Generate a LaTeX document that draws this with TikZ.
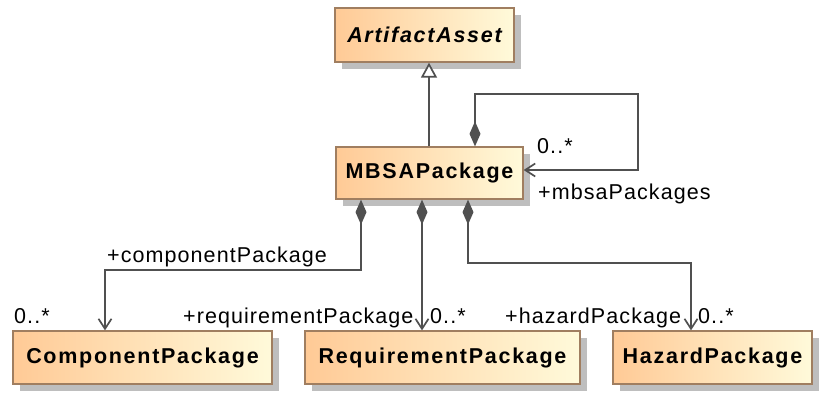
\documentclass[tikz,border=0pt]{standalone}
\usepackage{fontspec}
\setmainfont{Liberation Sans}[LetterSpace=5]
\newfontfamily\boxfont{Liberation Sans}[LetterSpace=8]
\usetikzlibrary{arrows.meta,shadows,calc}
\definecolor{fillL}{RGB}{255,202,150}
\definecolor{fillR}{RGB}{255,250,218}
\definecolor{bord}{RGB}{160,126,96}
\definecolor{lc}{RGB}{80,80,80}
\definecolor{shd}{RGB}{190,190,190}
\begin{document}
\begin{tikzpicture}[x=1pt,y=-1pt,
  cls/.style={draw=bord, line width=1.3pt, left color=fillL, right color=fillR,
    inner sep=0pt, font=\boxfont\bfseries\fontsize{21.5}{24}\selectfont,
    drop shadow={shadow xshift=7pt, shadow yshift=-7pt, fill=shd, opacity=1}},
  conn/.style={draw=lc, line width=1.7pt},
  comp/.style={conn, {Diamond[length=25pt,width=11pt,fill=lc]}-{Straight Barb[length=10pt,width=13pt]}},
  lbl/.style={inner sep=0pt, anchor=base west, font=\fontsize{21.5}{24}\selectfont}
]
\useasboundingbox (0,0) rectangle (827,400);
\node[cls, minimum width=179pt, minimum height=54pt] (aa) at (424.5,35) {\itshape ArtifactAsset};
\node[cls, minimum width=187pt, minimum height=52pt] (mbsa) at (429.5,173) {MBSAPackage};
\node[cls, minimum width=259pt, minimum height=53pt] (cp) at (142.5,357.5) {ComponentPackage};
\node[cls, minimum width=275pt, minimum height=53pt] (rp) at (442.5,357.5) {RequirementPackage};
\node[cls, minimum width=199pt, minimum height=53pt] (hp) at (712.5,357.5) {HazardPackage};

\coordinate (g1) at (429,100);
\coordinate (s1) at (475,94);
\coordinate (s2) at (638,170);
\coordinate (c1) at (361,270);
\coordinate (c2) at (105,270);
\coordinate (r1) at (422,270);
\coordinate (h1) at (468,263);
\coordinate (h2) at (691,263);

\draw[conn, -{Triangle[open, length=15pt, width=16pt, fill=white]}] (mbsa.north -| g1) -- (aa.south -| g1);
\draw[comp] (mbsa.north -| s1) -- (s1) -| (s2) -- (mbsa.east |- s2);
\draw[comp] (mbsa.south -| c1) -- (c1) -| (cp.north -| c2);
\draw[comp] (mbsa.south -| r1) -- (rp.north -| r1);
\draw[comp] (mbsa.south -| h1) -- (h1) -| (hp.north -| h2);

\node[lbl] (l1) at (537,153) {0..*};
\node[lbl] (l2) at (538,199) {+mbsaPackages};
\node[lbl] (l3) at (107,262) {+componentPackage};
\node[lbl] (l4) at (14,323) {0..*};
\node[lbl] (l5) at (183,323) {+requirementPackage};
\node[lbl] (l6) at (430,323) {0..*};
\node[lbl] (l7) at (505,323) {+hazardPackage};
\node[lbl] (l8) at (698,323) {0..*};
\end{tikzpicture}
\end{document}
